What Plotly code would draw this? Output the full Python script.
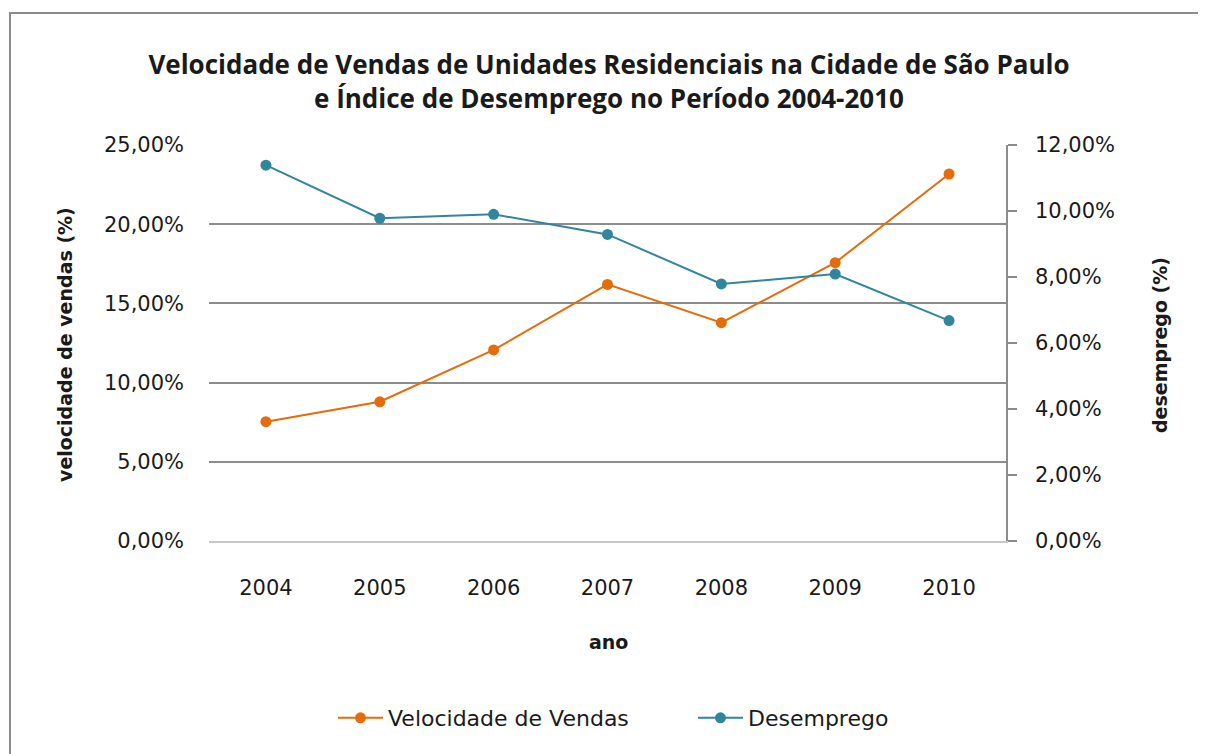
import plotly.graph_objects as go

anos = ["2004", "2005", "2006", "2007", "2008", "2009", "2010"]
velocidade_vendas = [7.53, 8.79, 12.06, 16.2, 13.78, 17.57, 23.17]
desemprego = [11.39, 9.78, 9.9, 9.29, 7.79, 8.09, 6.68]

left_ticks = [0, 5, 10, 15, 20, 25]
right_ticks = [0, 2, 4, 6, 8, 10, 12]


def pct_label(v):
    return f"{v:.2f}".replace(".", ",") + "%"


ORANGE = "#E46C0A"
TEAL = "#31859C"
GRID = "#8c8c8c"
FONT = "DejaVu Sans"

W, H = 1206, 754
OFF = 8  # page body margin
# plot area in screen pixels
SX0, SX1, SY0, SY1 = 209, 1006, 145, 541
L = SX0 - OFF
R = W - (SX1 - OFF)
T = SY0 - OFF
B = H - (SY1 - OFF)
pw, ph = SX1 - SX0, SY1 - SY0


def px(x):
    return (x - SX0) / pw


def py(y):
    return (SY1 - y) / ph


fig = go.Figure()
fig.add_trace(go.Scatter(x=anos, y=velocidade_vendas, name="Velocidade de Vendas",
                         mode="lines+markers", line=dict(color=ORANGE, width=2),
                         marker=dict(color=ORANGE, size=11), yaxis="y"))
fig.add_trace(go.Scatter(x=anos, y=desemprego, name="Desemprego",
                         mode="lines+markers", line=dict(color=TEAL, width=2),
                         marker=dict(color=TEAL, size=11), yaxis="y2"))

fig.update_layout(
    width=W, height=H,
    margin=dict(l=L, r=R, t=T, b=B),
    paper_bgcolor="white", plot_bgcolor="white",
    font=dict(family=FONT, color="#1a1a1a"),
    title=dict(text="Velocidade de Vendas de Unidades Residenciais na Cidade de São Paulo<br>e Índice de Desemprego no Período 2004-2010",
               x=(609 - OFF) / W, xanchor="center", xref="container",
               y=1 - (74 - OFF) / H, yanchor="middle", yref="container",
               font=dict(family="Open Sans", size=26, color="#1a1a1a", weight="bold")),
    xaxis=dict(type="category", showgrid=False, showline=True, linecolor="#c8c8c8", linewidth=1.5,
               ticks="", tickfont=dict(size=21), ticklabelstandoff=27,
               range=[-0.5, 6.5]),
    yaxis=dict(range=[0, 25], tickvals=left_ticks, ticktext=[pct_label(v) for v in left_ticks],
               showgrid=True, gridcolor=GRID, gridwidth=1.5, zeroline=False,
               showline=False, ticks="", tickfont=dict(size=21), ticklabelstandoff=24),
    yaxis2=dict(range=[0, 12], tickvals=right_ticks, ticktext=[pct_label(v) for v in right_ticks],
                overlaying="y", side="right", showgrid=False, zeroline=False,
                showline=True, linecolor=GRID, linewidth=1.5,
                ticks="outside", ticklen=9, tickcolor=GRID, tickwidth=1.5,
                tickfont=dict(size=21), ticklabelstandoff=14),
    legend=dict(orientation="h", x=px(693), xanchor="center", y=py(718), yanchor="middle",
                font=dict(size=22), itemwidth=45, entrywidth=300, tracegroupgap=0),
    showlegend=True,
    annotations=[
        dict(text="<b>velocidade de vendas (%)</b>", xref="paper", yref="paper",
             x=px(65), y=py(345), xanchor="center", yanchor="middle", textangle=-90,
             showarrow=False, font=dict(size=19)),
        dict(text="<b>desemprego (%)</b>", xref="paper", yref="paper",
             x=px(1160), y=py(345), xanchor="center", yanchor="middle", textangle=-90,
             showarrow=False, font=dict(size=19)),
        dict(text="<b>ano</b>", xref="paper", yref="paper",
             x=px(608), y=py(642), xanchor="center", yanchor="middle",
             showarrow=False, font=dict(size=19)),
    ],
    shapes=[dict(type="rect", xref="paper", yref="paper",
                 x0=px(10), x1=px(1210), y0=py(760), y1=py(13),
                 line=dict(color="#8c8c8c", width=2), layer="below")],
)

fig.write_html("out.html")
